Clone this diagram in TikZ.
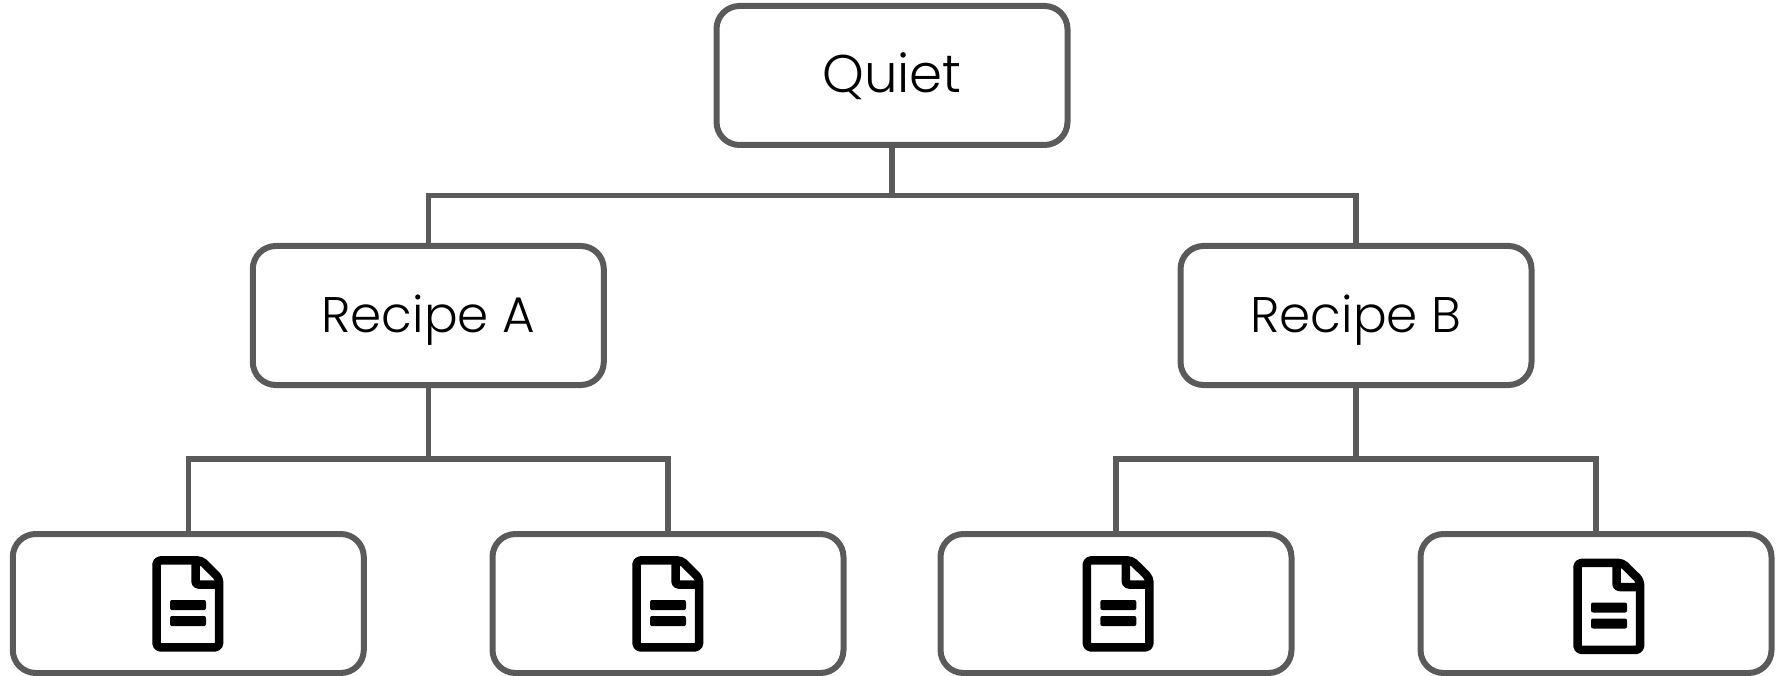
\documentclass[tikz,border=0pt]{standalone}
\usepackage{fontspec}
\setmainfont{Poppins Light}
\definecolor{edgegray}{HTML}{5A5A5A}
\tikzset{
  x=1pt,y=-1pt,
  card/.style={draw=edgegray,line width=6pt,rounded corners=23pt,fill=white,minimum width=351pt,minimum height=139pt,inner sep=0pt,text=black},
  recipetext/.style={font=\fontsize{50}{60}\selectfont},
  quiettext/.style={font=\fontsize{53}{64}\selectfont},
  wire/.style={draw=edgegray,line width=5.6pt,line join=miter},
  pagebody/.style={draw=black,line width=8.5pt,rounded corners=4pt,line join=round},
  pagefold/.style={draw=black,line width=8.5pt,rounded corners=3pt,line join=round},
  textbar/.style={fill=black,rounded corners=2pt}
}
\newcommand{\docicon}[2]{%
  \begin{scope}[shift={(#1,#2)}]
    \draw[pagebody] (4.2,4.4) -- (49,4.4) -- (66.8,22.1) -- (66.8,91.4) -- (4.2,91.4) -- cycle;
    \draw[pagefold] (43.2,4.4) -- (43.2,28.5) -- (66.8,28.5);
    \fill[textbar] (17.7,44) rectangle (53.7,54);
    \fill[textbar] (17.7,60) rectangle (53.7,70);
  \end{scope}}
\begin{document}
\begin{tikzpicture}
\useasboundingbox (0,0) rectangle (1783,676);
\node[card,quiettext] (root) at (892,75.5) {\raisebox{-17.2pt}[0pt][0pt]{Quiet}};
\node[card,recipetext] (ra) at (428.3,315.5) {\raisebox{-16.8pt}[0pt][0pt]{Recipe A}};
\node[card,recipetext] (rb) at (1356,315.5) {\raisebox{-16.8pt}[0pt][0pt]{Recipe B}};
\node[card] (l1) at (188.3,603.5) {};
\node[card] (l2) at (668,603.5) {};
\node[card] (l3) at (1116,603.5) {};
\node[card] (l4) at (1596,603.5) {};
\coordinate (jr) at (892,195.5);
\coordinate (ja) at (428.3,459);
\coordinate (jb) at (1356,459);
\draw[wire] (root.south) -- (jr);
\draw[wire] (ra.north) |- (jr) -| (rb.north);
\draw[wire] (ra.south) -- (ja);
\draw[wire] (l1.north) |- (ja) -| (l2.north);
\draw[wire] (rb.south) -- (jb);
\draw[wire] (l3.north) |- (jb) -| (l4.north);
\docicon{152.3}{556}
\docicon{632.3}{556}
\docicon{1082.6}{556}
\docicon{1573.3}{558.5}
\end{tikzpicture}
\end{document}
